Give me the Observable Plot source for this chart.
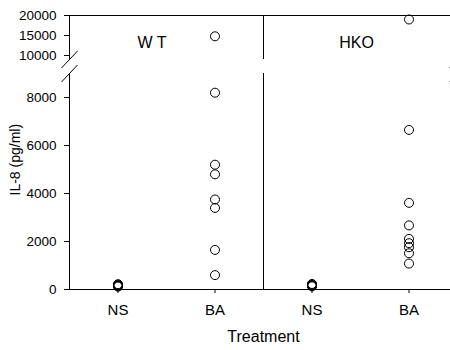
<!DOCTYPE html>
<html><head><meta charset="utf-8">
<script src="https://cdn.jsdelivr.net/npm/d3@7"></script>
<script src="https://cdn.jsdelivr.net/npm/@observablehq/plot@0.6"></script>
<style>
body{margin:0;background:#fff;}
#chart{position:relative;width:450px;height:350px;overflow:hidden;background:#fff;}
#chart svg{position:absolute;left:0;top:0;max-width:none !important;width:457px !important;height:350px !important;}
</style></head><body><div id="chart"></div>
<script>
// ---- data ----
const groups = ["WT", "HKO"];
const treatments = ["NS", "BA"];
const wtNS  = [120, 150, 180, 200, 220, 160];
const wtBA  = [14800, 8200, 5200, 4800, 3750, 3400, 1650, 600];
const hkoNS = [130, 160, 190, 210, 230, 170];
const hkoBA = [19000, 6650, 3610, 2670, 2110, 1930, 1760, 1510, 1080];
const lowerTicks = [0, 2000, 4000, 6000, 8000];
const upperTicks = [10000, 15000, 20000];
const breakValue = 9000;
const topValue = 20000;
const yLabel = "IL-8 (pg/ml)";
const xLabel = "Treatment";

// category positions: 4 slots (WT NS, WT BA, HKO NS, HKO BA)
const cats = [];
groups.forEach(g => treatments.forEach(t => cats.push({group: g, treatment: t})));
cats.forEach((c, i) => c.pos = i + 0.5);
const series = {"WT|NS": wtNS, "WT|BA": wtBA, "HKO|NS": hkoNS, "HKO|BA": hkoBA};
const points = cats.flatMap(c => series[c.group + "|" + c.treatment].map(v => ({pos: c.pos, value: v})));
const panelLabels = [{text: "W T", x: 0.85, y: 13250}, {text: "HKO", x: 2.96, y: 13250}];
const borders = [0, 2]; // left axis and panel divider
const breakAxes = [0, 4];

const W = 457, H = 350, ML = 69;
const font = "'Liberation Sans', Arial, Helvetica, sans-serif";
const xScale = {domain: [0, 4]};
const style = {fontFamily: font, fontSize: "13.5px", color: "black", background: "transparent", overflow: "visible", maxWidth: "none"};
const slashW = 8 / 97;

// ---- upper segment ----
const upper = Plot.plot({
  width: W, height: H, marginLeft: ML, marginRight: 0, marginTop: 15, marginBottom: 291,
  x: {...xScale, axis: null},
  y: {domain: [breakValue, topValue], axis: null},
  style,
  marks: [
    Plot.ruleY([topValue], {x1: 0, x2: 4, stroke: "black"}),
    Plot.ruleX(borders, {y1: breakValue, y2: topValue, stroke: "black"}),
    Plot.link(breakAxes, {x1: d => d - slashW, x2: d => d + slashW, y1: breakValue - 2125, y2: breakValue + 2125, stroke: "black"}),
    Plot.axisY({ticks: upperTicks, tickSize: 5, tickPadding: 8, tickFormat: d => String(d), label: null, fontSize: 13.5}),
    Plot.text(panelLabels, {x: "x", y: "y", text: "text", fontSize: 16}),
    Plot.dot(points.filter(d => d.value > breakValue), {x: "pos", y: "value", r: 4.5, stroke: "black", fill: "none", strokeWidth: 1})
  ]
});

// ---- lower segment ----
const lower = Plot.plot({
  width: W, height: H, marginLeft: ML, marginRight: 0, marginTop: 73, marginBottom: 61,
  x: {...xScale, axis: null},
  y: {domain: [0, breakValue], axis: null},
  style,
  marks: [
    Plot.ruleY([0], {x1: 0, x2: 4, stroke: "black"}),
    Plot.ruleX(borders, {y1: 0, y2: breakValue, stroke: "black"}),
    Plot.link(breakAxes, {x1: d => d - slashW, x2: d => d + slashW, y1: breakValue - 354, y2: breakValue + 354, stroke: "black"}),
    Plot.axisY({ticks: lowerTicks, tickSize: 5, tickPadding: 8, tickFormat: d => String(d), label: null, fontSize: 13.5}),
    Plot.axisX({ticks: cats.map(c => c.pos), tickFormat: d => cats.find(c => c.pos === d).treatment, tickSize: 4, tickPadding: 11, label: null, fontSize: 15}),
    Plot.text([yLabel], {frameAnchor: "left", rotate: -90, dx: -54, dy: 14, fontSize: 14}),
    Plot.text([xLabel], {frameAnchor: "bottom", dy: 52, fontSize: 16}),
    Plot.dot(points.filter(d => d.value <= breakValue), {x: "pos", y: "value", r: 4.5, stroke: "black", fill: "none", strokeWidth: 1})
  ]
});

const el = document.getElementById("chart");
el.appendChild(upper);
el.appendChild(lower);
</script></body></html>
